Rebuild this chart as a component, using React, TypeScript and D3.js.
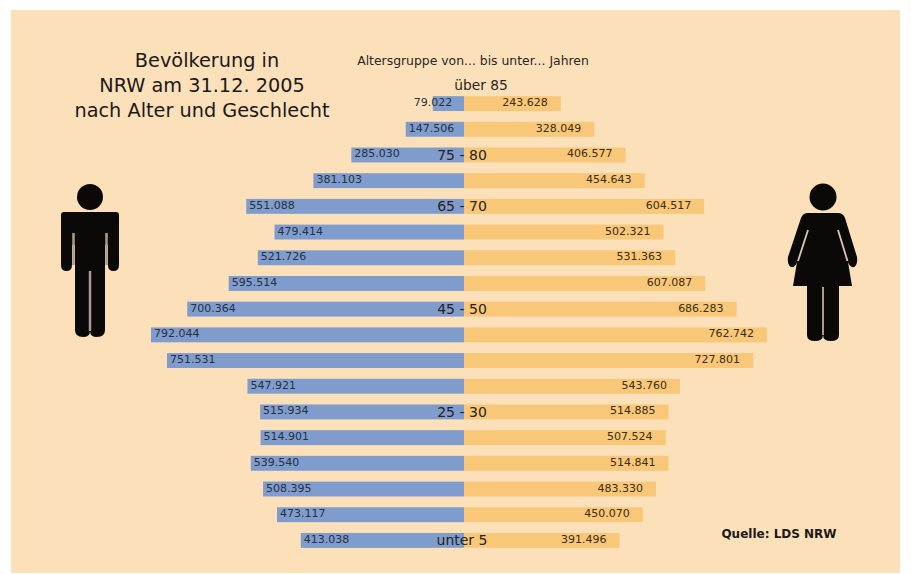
import React from "react";
import * as d3 from "d3";

const rows = d3.range(18);
const maleValues = [79022, 147506, 285030, 381103, 551088, 479414, 521726, 595514, 700364, 792044, 751531, 547921, 515934, 514901, 539540, 508395, 473117, 413038];
const femaleValues = [243628, 328049, 406577, 454643, 604517, 502321, 531363, 607087, 686283, 762742, 727801, 543760, 514885, 507524, 514841, 483330, 450070, 391496];
const ageLabels: Record<number, string> = { 2: "75 - 80", 4: "65 - 70", 8: "45 - 50", 12: "25 - 30", 17: "unter 5" };
const titleLines = ["Bevölkerung in", "NRW am 31.12. 2005", "nach Alter und Geschlecht"];
const titleCentres = [207, 202, 202];

const font = "'DejaVu Sans', sans-serif";
const ink = "#0b0908";
const fmt = (v: number) => d3.format(",")(v).replace(/,/g, ".");

// Pictogram of a man, origin at the top of the head on the body axis.
function Man({ x, y }: { x: number; y: number }) {
  return (
    <g transform={`translate(${x},${y})`}>
      <circle cx={0} cy={12} r={13} fill={ink} />
      <path
        fill={ink}
        d="M-26,27 H26 Q29,27 29,30 V80 Q29,86 23.5,86 Q18,86 18,80 V60 H15 V145 Q15,152 7,152 Q0,152 0,146 Q0,152 -7,152 Q-15,152 -15,145 V60 H-18 V80 Q-18,86 -23.5,86 Q-29,86 -29,80 V30 Q-29,27 -26,27 Z"
      />
      <path stroke="#a89c8f" strokeWidth={2.5} fill="none" d="M-16.5,48 V80 M16.5,48 V80 M0,86 V146" />
    </g>
  );
}

// Pictogram of a woman in a dress, same origin convention.
function Woman({ x, y }: { x: number; y: number }) {
  return (
    <g transform={`translate(${x},${y})`}>
      <circle cx={0} cy={12} r={13.5} fill={ink} />
      <path
        fill={ink}
        d="M-15,28 H15 Q20,28 22,33 L34,72 Q35,80 31,82 Q27,83 25,77 L29,101 H16 V150 Q16,156 8,156 Q0,156 0,150 Q0,156 -8,156 Q-16,156 -16,150 V101 H-30 L-26,77 Q-28,83 -32,82 Q-36,80 -35,72 L-22,33 Q-20,28 -15,28 Z"
      />
      <path stroke="#d8c8b2" strokeWidth={1.8} fill="none" d="M-15,45 L-25,76 M15,45 L24.5,76" />
      <path stroke="#a89c8f" strokeWidth={2} fill="none" d="M0,102 V150" />
    </g>
  );
}

export default function App() {
  const centre = 464;
  const xMale = d3.scaleLinear().domain([0, 792044]).range([centre, 151]);
  const xFemale = d3.scaleLinear().domain([0, 762742]).range([centre, 767]);
  const y = d3.scaleBand<number>().domain(rows).range([91, 553]).paddingInner(0.42).paddingOuter(0.2);
  const mid = (i: number) => (y(i) as number) + y.bandwidth() / 2;

  return (
    <svg width={911} height={574} style={{ position: "absolute", left: 0, top: 0, display: "block" }} fontFamily={font}>
      <rect width={911} height={574} fill="#ffffff" />
      <rect x={11} y={10} width={889} height={563} fill="#fce0ba" />

      {titleLines.map((t, i) => (
        <text key={t} x={titleCentres[i]} y={67 + i * 25} textAnchor="middle" fontSize={19.3} fill="#1b1917">{t}</text>
      ))}
      <text x={473} y={65} textAnchor="middle" fontSize={12.4} fill="#2a2622">Altersgruppe von... bis unter... Jahren</text>
      <text x={481} y={90} textAnchor="middle" fontSize={13.8} fill="#2a2622">über 85</text>

      {rows.map((i) => (
        <g key={i}>
          <rect x={xMale(maleValues[i])} y={y(i)} width={centre - xMale(maleValues[i])} height={y.bandwidth()} fill="#7f9ccd" />
          <rect x={centre} y={y(i)} width={xFemale(femaleValues[i]) - centre} height={y.bandwidth()} fill="#f8c777" />
          <text x={xMale(maleValues[i]) + (i === 0 ? -19 : 3)} y={mid(i) + 2.5} fontSize={11} fill="#26303f">{fmt(maleValues[i])}</text>
          <text x={xFemale(femaleValues[i]) - 13} y={mid(i) + 2.5} textAnchor="end" fontSize={11} fill="#3a2c14">{fmt(femaleValues[i])}</text>
          {ageLabels[i] && (
            <text x={462} y={mid(i) + 5} textAnchor="middle" fontSize={14} fill="#252220">{ageLabels[i]}</text>
          )}
        </g>
      ))}

      <Man x={90} y={185} />
      <Woman x={823} y={185} />

      <text x={779} y={538} textAnchor="middle" fontSize={12} fontWeight="bold" fill="#1b1917">Quelle: LDS NRW</text>
    </svg>
  );
}
